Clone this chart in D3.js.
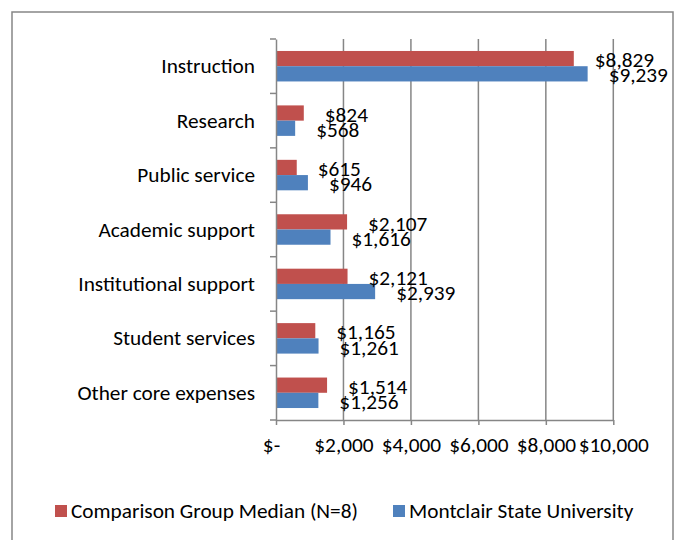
<!DOCTYPE html>
<html>
<head>
    <script src="https://cdn.jsdelivr.net/npm/d3@7"></script>
</head>

<style>
    body { margin: 0; background: white; }
    text { font-family: Carlito, "Liberation Sans Narrow", "DejaVu Sans Condensed", "Open Sans", sans-serif; fill: #000; }
    .axis path, .axis line { stroke: #868686; stroke-width: 1.5; }
    .grid line { stroke: #868686; stroke-width: 1.5; }
</style>

<body>
<div id="chart"></div>

<script>

    var categories = ['Instruction', 'Research', 'Public service', 'Academic support',
        'Institutional support', 'Student services', 'Other core expenses'];
    var comparison = [8829, 824, 615, 2107, 2121, 1165, 1514];
    var montclair = [9239, 568, 946, 1616, 2939, 1261, 1256];
    var seriesNames = ['Comparison Group Median (N=8)', 'Montclair State University'];
    var xTicks = [0, 2000, 4000, 6000, 8000, 10000];

    var colors = ['#C0504D', '#4F81BD'];
    var fontSize = '21.3px';

    var width = 676, height = 540;
    var plot = { left: 276, right: 613.3, top: 39, bottom: 420 };

    var rows = categories.map(function(c, i) {
        return { name: c, values: [comparison[i], montclair[i]] };
    });

    var svg = d3.select('#chart').append('svg')
        .attr('width', width)
        .attr('height', height);

    // outer chart border (bottom edge is cut off in the picture)
    svg.append('rect')
        .attr('x', 12)
        .attr('y', 12)
        .attr('width', 661)
        .attr('height', 540)
        .attr('fill', 'white')
        .attr('stroke', '#868686')
        .attr('stroke-width', 1.5);

    var xScale = d3.scaleLinear()
        .domain([0, 10000])
        .range([plot.left, plot.right]);

    var yScale = d3.scaleBand()
        .domain(categories)
        .range([plot.top, plot.bottom])
        .paddingInner(0.44)
        .paddingOuter(0.22);

    var ySub = d3.scaleBand()
        .domain([0, 1])
        .range([0, yScale.bandwidth()]);

    // vertical gridlines
    svg.append('g')
        .attr('class', 'grid')
        .selectAll('line')
        .data(xTicks.slice(1))
        .enter()
        .append('line')
        .attr('x1', function(d) { return xScale(d); })
        .attr('x2', function(d) { return xScale(d); })
        .attr('y1', plot.top)
        .attr('y2', plot.bottom);

    // bars
    var groups = svg.append('g').selectAll('g.row')
        .data(rows)
        .enter()
        .append('g')
        .attr('class', 'row')
        .attr('transform', function(d) { return 'translate(0,' + yScale(d.name) + ')'; });

    groups.selectAll('rect')
        .data(function(d) { return d.values; })
        .enter()
        .append('rect')
        .attr('x', xScale(0))
        .attr('y', function(d, i) { return ySub(i); })
        .attr('width', function(d) { return xScale(d) - xScale(0); })
        .attr('height', ySub.bandwidth())
        .attr('fill', function(d, i) { return colors[i]; });

    groups.selectAll('text.value')
        .data(function(d) { return d.values; })
        .enter()
        .append('text')
        .attr('class', 'value')
        .attr('x', function(d) { return xScale(d) + 21; })
        .attr('y', function(d, i) { return ySub(i) + ySub.bandwidth() + 1; })
        .style('font-size', fontSize)
        .text(function(d) { return d3.format('$,')(d); });

    // x axis
    var xAxis = svg.append('g')
        .attr('class', 'axis')
        .attr('transform', 'translate(0,' + plot.bottom + ')')
        .call(d3.axisBottom(xScale)
            .tickValues(xTicks)
            .tickSize(5)
            .tickSizeOuter(0)
            .tickPadding(12)
            .tickFormat(function(d) { return d === 0 ? '$-' : d3.format('$,')(d); }));
    xAxis.selectAll('text')
        .style('font-size', fontSize)
        .attr('dx', function(d) { return d === 0 ? '-5' : '0'; });

    // y axis: labels at band centres, ticks at band edges
    var yAxis = svg.append('g')
        .attr('class', 'axis')
        .attr('transform', 'translate(' + plot.left + ',0)')
        .call(d3.axisLeft(yScale).tickSize(0).tickPadding(21));
    yAxis.selectAll('text')
        .style('font-size', fontSize)
        .attr('dy', '0.33em');

    var edges = categories.map(function(c) { return yScale(c) - yScale.step() * yScale.paddingInner() / 2; });
    edges.push(plot.bottom);
    yAxis.selectAll('line.edge')
        .data(edges)
        .enter()
        .append('line')
        .attr('class', 'edge')
        .attr('x1', -6)
        .attr('x2', 0)
        .attr('y1', function(d) { return d; })
        .attr('y2', function(d) { return d; });

    // legend
    var legendItems = [
        { name: seriesNames[0], color: colors[0], x: 55 },
        { name: seriesNames[1], color: colors[1], x: 393 }
    ];
    var legend = svg.append('g').selectAll('g')
        .data(legendItems)
        .enter()
        .append('g')
        .attr('transform', function(d) { return 'translate(' + d.x + ',505)'; });
    legend.append('rect')
        .attr('width', 12)
        .attr('height', 12)
        .attr('fill', function(d) { return d.color; });
    legend.append('text')
        .attr('x', 16)
        .attr('y', 13)
        .style('font-size', fontSize)
        .text(function(d) { return d.name; });

</script>
</body>
</html>
